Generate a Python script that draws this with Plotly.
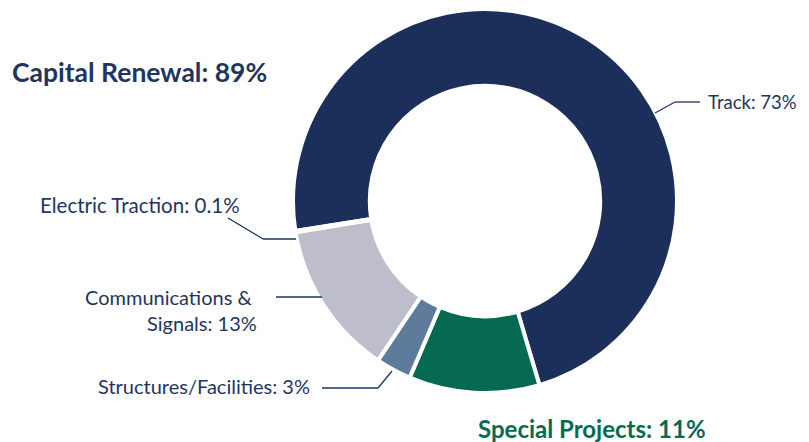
import plotly.graph_objects as go

# page is 809x442 but the body has an 8px margin, so the figure is 801x434
PAGE_W, PAGE_H = 809, 442
OFF = 8
W, H = PAGE_W - OFF, PAGE_H - OFF

labels = ['Track', 'Special Projects', 'Structures/Facilities',
          'Communications & Signals', 'Electric Traction']
values = [73, 11, 3, 13, 0.1]
colors = ['#1C2E5A', '#066A52', '#5F7B9B', '#BEBDCC', '#BEBDCC']

NAVY = '#1F3560'
GREEN = '#066A52'
FONT = 'Lato, "Open Sans", sans-serif'


def px(x, y):
    # page pixel -> paper fraction
    return (x - OFF) / W, 1 - (y - OFF) / H


# donut placed in page pixels: centre (485, 201), outer radius ~192
cx, cy, R = 485, 201, 192
x0, y0 = px(cx - R, cy + R)
x1, y1 = px(cx + R, cy - R)

fig = go.Figure(go.Pie(
    labels=labels, values=values, hole=0.6, sort=False,
    direction='clockwise', rotation=261,
    marker=dict(colors=colors, line=dict(color='white', width=4)),
    textinfo='none', hoverinfo='label+percent', showlegend=False,
    domain=dict(x=[x0, x1], y=[y0, y1]),
))

# leader lines (page pixel coordinates)
leaders = [
    [(655, 113), (675, 102), (700, 102)],           # Track
    [(228, 218), (263, 239), (296, 239)],           # Electric Traction
    [(276, 297), (322, 297)],                       # Communications
    [(322, 388), (378, 388), (392, 371)],           # Structures
]
for pts in leaders:
    for (ax, ay), (bx, by) in zip(pts[:-1], pts[1:]):
        ax_, ay_ = px(ax, ay)
        bx_, by_ = px(bx, by)
        fig.add_shape(type='line', xref='paper', yref='paper',
                      x0=ax_, y0=ay_, x1=bx_, y1=by_,
                      line=dict(color=NAVY, width=1.3))


def note(x, y, text, anchor='left', size=20, color=NAVY, bold=False, align='left'):
    xx, yy = px(x, y)
    if bold:
        text = '<b>' + text + '</b>'
    fig.add_annotation(x=xx, y=yy, xref='paper', yref='paper', text=text,
                       showarrow=False, xanchor=anchor, yanchor='middle', align=align,
                       font=dict(family=FONT, size=size, color=color))


note(10, 72, 'Capital Renewal: 89%', size=26.5, bold=True)
note(706, 102, 'Track: 73%', size=18.5)
note(38, 205, 'Electric Traction: 0.1%', size=20.5)
note(259, 310, 'Communications &amp; <br>Signals: 13%', anchor='right', align='right')
note(312, 386, 'Structures/Facilities: 3%', anchor='right')
note(476, 428, 'Special Projects: 11%', size=24, color=GREEN, bold=True)

fig.update_layout(
    width=W, height=H, margin=dict(l=0, r=0, t=0, b=0),
    paper_bgcolor='white', plot_bgcolor='white',
)

fig.write_html('out.html')
